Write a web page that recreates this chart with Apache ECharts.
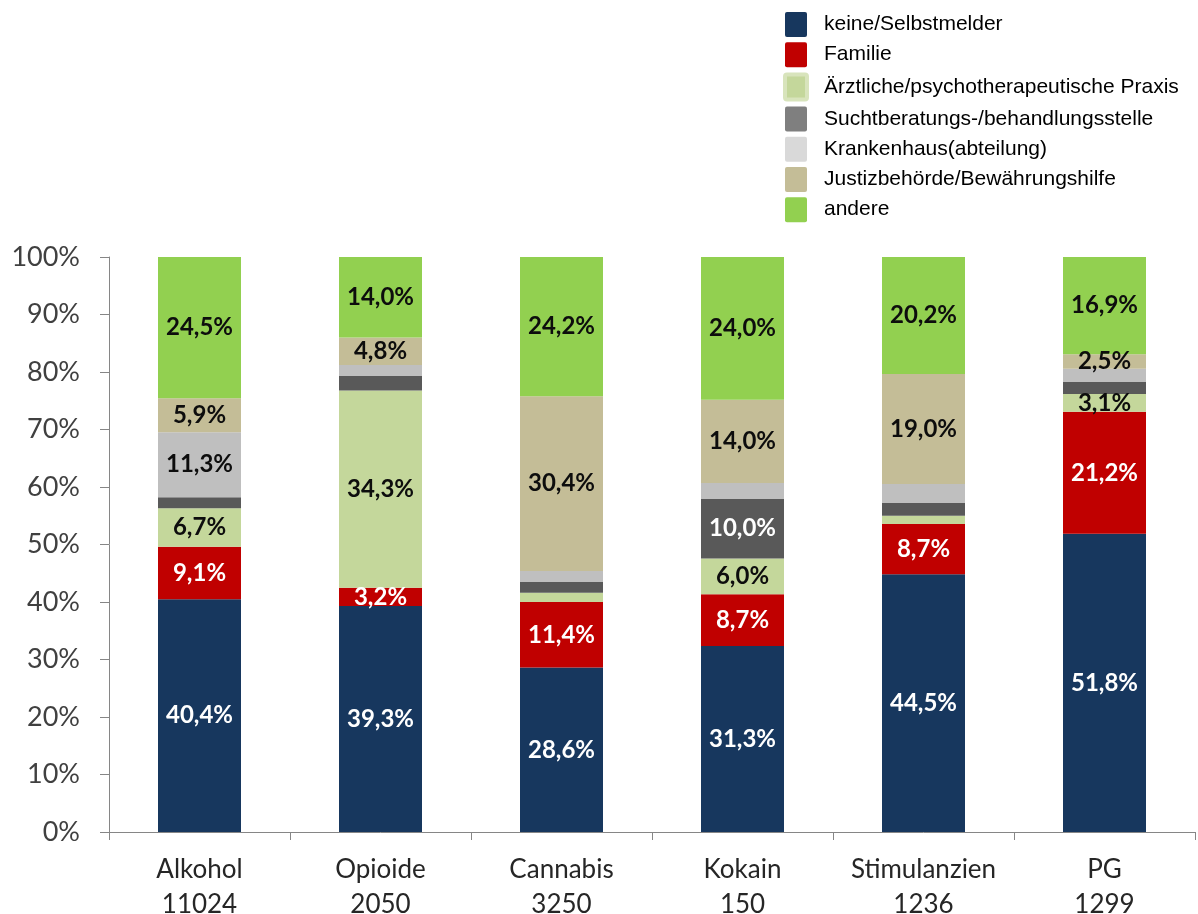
<!DOCTYPE html>
<html>
<head>
<meta charset="utf-8">
<script src="https://cdn.jsdelivr.net/npm/echarts@6/dist/echarts.min.js"></script>
<style>
html,body{margin:0;padding:0;background:#fff;}
#chart{width:1198px;height:914px;}
</style>
</head>
<body>
<div id="chart"></div>
<script>
const categories = ['Alkohol', 'Opioide', 'Cannabis', 'Kokain', 'Stimulanzien', 'PG'];
const counts = ['11024', '2050', '3250', '150', '1236', '1299'];
const seriesNames = ['keine/Selbstmelder', 'Familie', 'Ärztliche/psychotherapeutische Praxis',
  'Suchtberatungs-/behandlungsstelle', 'Krankenhaus(abteilung)', 'Justizbehörde/Bewährungshilfe', 'andere'];
const keine   = [40.4, 39.3, 28.6, 31.3, 44.5, 51.8];
const familie = [9.1, 3.2, 11.4, 8.7, 8.7, 21.2];
const aerztl  = [6.7, 34.3, 1.6, 6.0, 1.4, 3.1];
const sucht   = [1.9, 2.5, 1.9, 10.0, 2.2, 2.1];
const kranken = [11.3, 1.9, 1.9, 2.7, 3.3, 2.3];
const justiz  = [5.9, 4.8, 30.4, 14.0, 19.0, 2.5];
const andere  = [24.5, 14.0, 24.2, 24.0, 20.2, 16.9];
const yTicks = [0, 10, 20, 30, 40, 50, 60, 70, 80, 90, 100];
// segments without a printed label: [seriesIndex, categoryIndex]
const hiddenLabels = [[3,0],[3,1],[4,1],[2,2],[3,2],[4,2],[4,3],[2,4],[3,4],[4,4],[3,5],[4,5]];

const values = [keine, familie, aerztl, sucht, kranken, justiz, andere];
const barColors = ['#17375e', '#c00000', '#c4d79b', '#595959', '#bfbfbf', '#c4bd97', '#92d050'];
const legendColors = ['#17375e', '#c00000', '#c4d79b', '#7f7f7f', '#d9d9d9', '#c4bd97', '#92d050'];
const labelColors = ['#ffffff', '#ffffff', '#0d0d0d', '#ffffff', '#0d0d0d', '#0d0d0d', '#0d0d0d'];

const totals = categories.map((c, j) => values.reduce((s, arr) => s + arr[j], 0));
const isHidden = (i, j) => hiddenLabels.some(p => p[0] === i && p[1] === j);

const series = values.map((arr, i) => ({
  name: seriesNames[i],
  type: 'bar',
  stack: 'total',
  barWidth: 83,
  itemStyle: { color: barColors[i] },
  emphasis: { disabled: true },
  data: arr.map((v, j) => ({
    value: v / totals[j] * 100,
    label: {
      show: !isHidden(i, j),
      position: 'inside',
      formatter: () => v.toFixed(1).replace('.', ',') + '%',
      color: labelColors[i],
      fontFamily: 'Lato',
      fontWeight: 'bold',
      fontSize: 24
    }
  }))
}));

const iconPath = 'path://M2,0 H20 Q22,0 22,2 V23 Q22,25 20,25 H2 Q0,25 0,23 V2 Q0,0 2,0 Z';

const chart = echarts.init(document.getElementById('chart'), null, { renderer: 'canvas' });
chart.setOption({
  backgroundColor: '#ffffff',
  animation: false,
  legend: {
    orient: 'vertical',
    left: 783,
    top: 12,
    padding: 0,
    itemWidth: 22,
    itemHeight: 25,
    itemGap: 5.2,
    icon: iconPath,
    selectedMode: false,
    textStyle: { fontFamily: 'Liberation Sans', fontSize: 21, color: '#000', padding: [0, 0, 0, 12] },
    data: seriesNames.map((n, i) => ({
      name: n,
      itemStyle: i === 2 ? { color: legendColors[i], borderColor: '#d8e4bc', borderWidth: 4 } : { color: legendColors[i] }
    }))
  },
  grid: { left: 109, right: 3, top: 257, bottom: 82, containLabel: false, outerBoundsMode: 'none' },
  xAxis: {
    type: 'category',
    data: categories,
    boundaryGap: true,
    axisLine: { show: true, lineStyle: { color: '#868686', width: 1 } },
    axisTick: { show: true, length: 8, lineStyle: { color: '#868686' } },
    axisLabel: {
      interval: 0,
      margin: 20,
      fontFamily: 'Lato',
      fontSize: 26,
      lineHeight: 35,
      color: '#262626',
      formatter: (val, idx) => val + '\n' + counts[idx]
    }
  },
  yAxis: {
    type: 'value',
    min: yTicks[0],
    max: yTicks[yTicks.length - 1],
    interval: 10,
    splitLine: { show: false },
    axisLine: { show: true, lineStyle: { color: '#868686', width: 1 } },
    axisTick: { show: true, length: 9, lineStyle: { color: '#868686' } },
    axisLabel: {
      margin: 29,
      fontFamily: 'Lato',
      fontSize: 27,
      color: '#404040',
      formatter: '{value}%'
    }
  },
  series: series
});
</script>
</body>
</html>
